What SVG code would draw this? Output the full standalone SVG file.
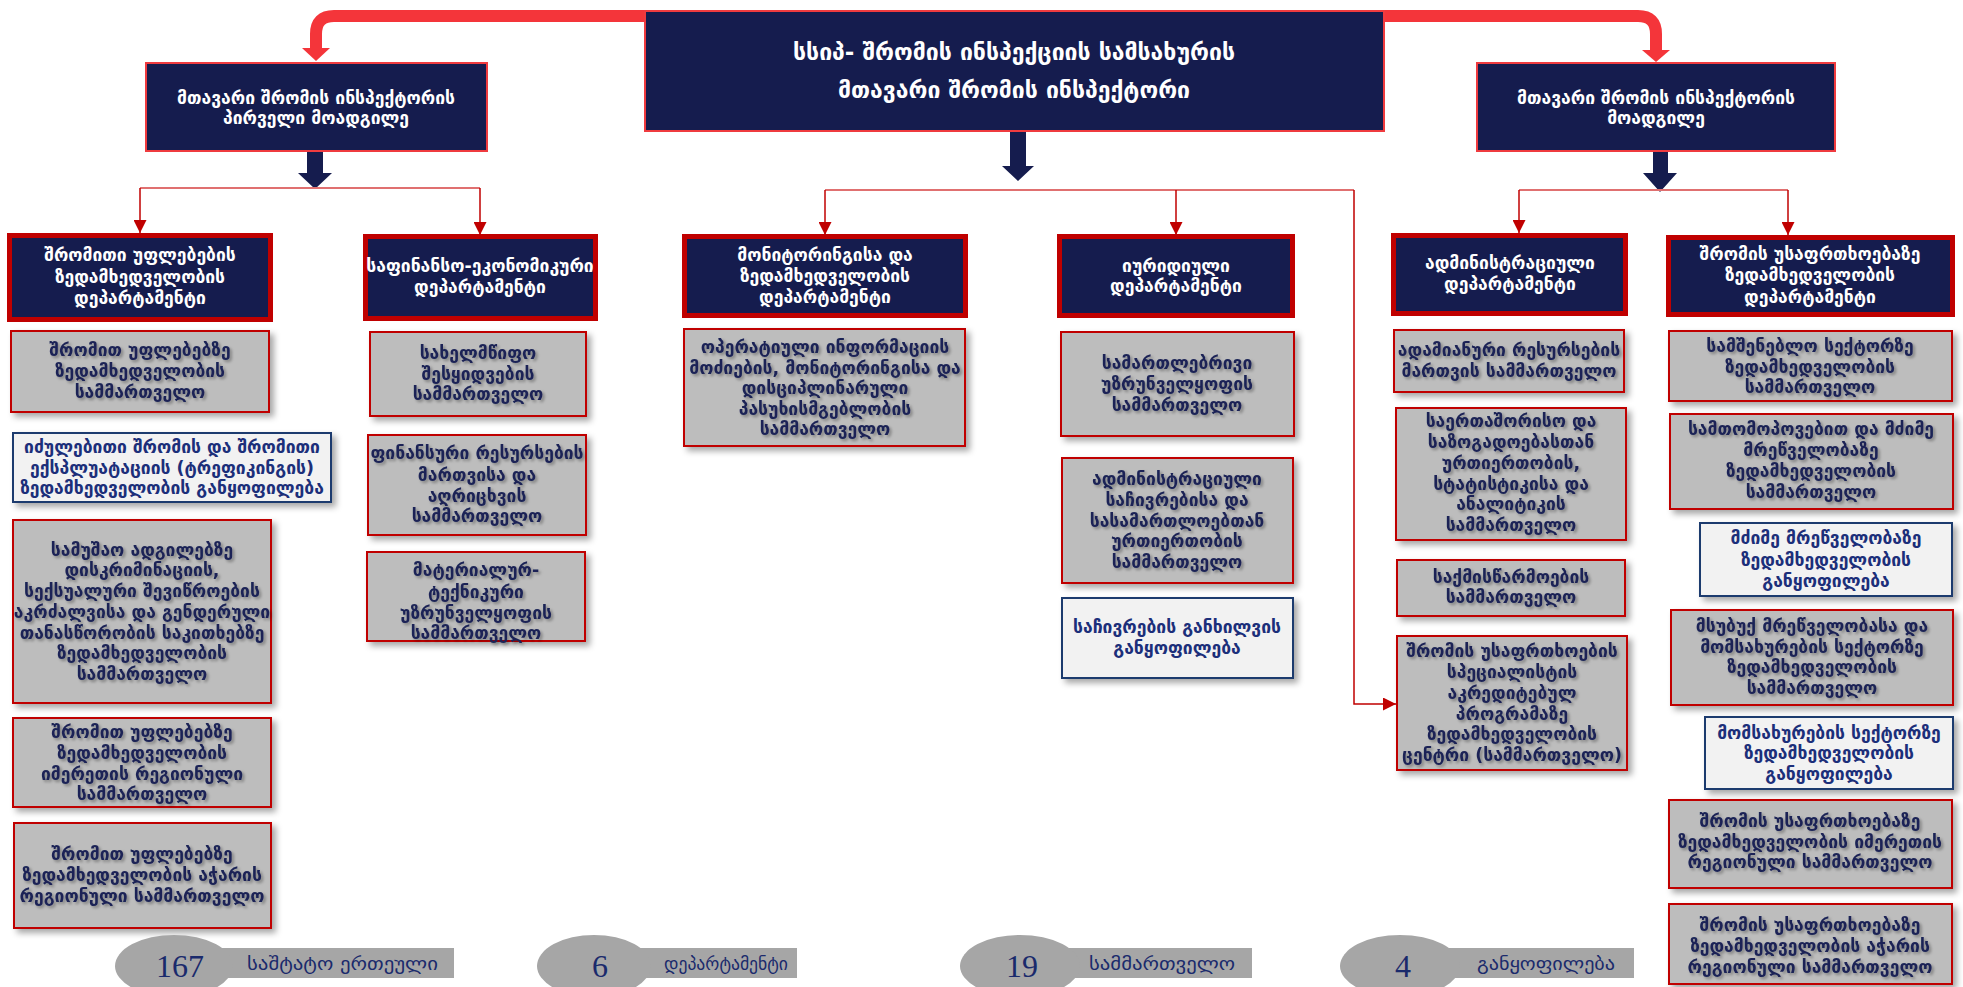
<svg xmlns="http://www.w3.org/2000/svg" width="1963" height="987" viewBox="0 0 1963 987">
<defs>
<filter id="bs" x="-10%" y="-10%" width="125%" height="130%"><feDropShadow dx="4" dy="4" stdDeviation="3" flood-color="#000" flood-opacity="0.35"/></filter>
<filter id="ts" x="-5%" y="-20%" width="115%" height="160%"><feDropShadow dx="2" dy="2" stdDeviation="1.6" flood-color="#000" flood-opacity="0.35"/></filter>
<marker id="ah" markerUnits="userSpaceOnUse" markerWidth="13" markerHeight="13" refX="13" refY="6.5" orient="auto"><path d="M0,0 L13,6.5 L0,13 z" fill="#c00000"/></marker>
</defs>
<style>
.top{fill:#151c4e;stroke:#ef3b3f;stroke-width:2}
.dept{fill:#151c4e;stroke:#c00000;stroke-width:5}
.sub{fill:#bdbdbd;stroke:#c00000;stroke-width:2;filter:url(#bs)}
.div{fill:#f2f2f2;stroke:#1f3a6e;stroke-width:2;filter:url(#bs)}
text{font-family:"DejaVu Sans",sans-serif;text-anchor:middle}
.tw{fill:#fff;font-weight:bold;font-size:17.5px}
.tc{fill:#fff;font-weight:bold;font-size:23px}
.tn{fill:#1b2456;font-weight:bold;font-size:17.5px;filter:url(#ts)}
.tb{fill:#1c2f7a;font-weight:bold;font-size:17.5px}
.st{fill:#a6a6a6}
.num{fill:#1a2a6c;font-family:"Liberation Serif",serif;font-size:32px}
.lab{fill:#1a2a6c;font-size:18px;text-anchor:start}
.red{fill:none;stroke:#f4353a;stroke-width:12}
.nv{fill:#151c4e}
.hl{fill:none;stroke:#e07070;stroke-width:2}
.vl{fill:none;stroke:#c00000;stroke-width:1.5}
</style>

<g id="connectors">
<path class="red" d="M646 16 H334 Q316 16 316 34 V49"/>
<polygon points="302,48 330,48 316,61" fill="#f4353a"/>
<path class="red" d="M1383 16 H1638 Q1656 16 1656 34 V50"/>
<polygon points="1642,50 1670,50 1656,62" fill="#f4353a"/>
<polygon class="nv" points="307,152 323,152 323,173 332,173 315,189 298,173 307,173"/>
<polygon class="nv" points="1010,132 1026,132 1026,166 1034,166 1018,181 1002,166 1010,166"/>
<polygon class="nv" points="1653,152 1668,152 1668,173 1677,173 1660,192 1643,173 1653,173"/>
<path class="hl" d="M140 188 H480"/>
<path class="vl" d="M140 188 V233" marker-end="url(#ah)"/>
<path class="vl" d="M480 188 V235" marker-end="url(#ah)"/>
<path class="hl" d="M825 190 H1354"/>
<path class="vl" d="M825 190 V235" marker-end="url(#ah)"/>
<path class="vl" d="M1176 190 V235" marker-end="url(#ah)"/>
<path class="vl" d="M1354 190 V704 H1396" marker-end="url(#ah)"/>
<path class="hl" d="M1519 190 H1788"/>
<path class="vl" d="M1519 190 V233" marker-end="url(#ah)"/>
<path class="vl" d="M1788 190 V235" marker-end="url(#ah)"/>
</g>

<g id="chief"><rect class="top" x="645" y="11" width="739" height="120"/>
<text class="tc"><tspan x="1014" y="60">სსიპ- შრომის ინსპექციის სამსახურის</tspan><tspan x="1014" y="98">მთავარი შრომის ინსპექტორი</tspan></text></g>
<g id="first-deputy"><rect class="top" x="146" y="63" width="341" height="88"/>
<text class="tw"><tspan x="316" y="104">მთავარი შრომის ინსპექტორის</tspan><tspan x="316" y="124">პირველი მოადგილე</tspan></text></g>
<g id="deputy"><rect class="top" x="1477" y="63" width="358" height="88"/>
<text class="tw"><tspan x="1656" y="104">მთავარი შრომის ინსპექტორის</tspan><tspan x="1656" y="124">მოადგილე</tspan></text></g>

<g id="d1"><rect class="dept" x="9.5" y="235.5" width="261" height="84"/>
<text class="tw"><tspan x="140" y="261">შრომითი უფლებების</tspan><tspan x="140" y="283">ზედამხედველობის</tspan><tspan x="140" y="304">დეპარტამენტი</tspan></text></g>
<g id="s1"><rect class="sub" x="11" y="331" width="258" height="81"/>
<text class="tn"><tspan x="140" y="356">შრომით უფლებებზე</tspan><tspan x="140" y="377">ზედამხედველობის</tspan><tspan x="140" y="398">სამმართველო</tspan></text></g>
<g id="b1"><rect class="div" x="13" y="433" width="318" height="69"/>
<text class="tb"><tspan x="172" y="453">იძულებითი შრომის და შრომითი</tspan><tspan x="172" y="474">ექსპლუატაციის (ტრეფიკინგის)</tspan><tspan x="172" y="494">ზედამხედველობის განყოფილება</tspan></text></g>
<g id="s2"><rect class="sub" x="13" y="520" width="258" height="183"/>
<text class="tn"><tspan x="142" y="556">სამუშაო ადგილებზე</tspan><tspan x="142" y="576">დისკრიმინაციის,</tspan><tspan x="142" y="597">სექსუალური შევიწროების</tspan><tspan x="142" y="618">აკრძალვისა და გენდერული</tspan><tspan x="142" y="639">თანასწორობის საკითხებზე</tspan><tspan x="142" y="659">ზედამხედველობის</tspan><tspan x="142" y="680">სამმართველო</tspan></text></g>
<g id="s3"><rect class="sub" x="13" y="718" width="258" height="89"/>
<text class="tn"><tspan x="142" y="738">შრომით უფლებებზე</tspan><tspan x="142" y="759">ზედამხედველობის</tspan><tspan x="142" y="780">იმერეთის რეგიონული</tspan><tspan x="142" y="800">სამმართველო</tspan></text></g>
<g id="s4"><rect class="sub" x="14" y="823" width="257" height="105"/>
<text class="tn"><tspan x="142" y="860">შრომით უფლებებზე</tspan><tspan x="142" y="881">ზედამხედველობის აჭარის</tspan><tspan x="142" y="902">რეგიონული სამმართველო</tspan></text></g>

<g id="d2"><rect class="dept" x="365.5" y="236.5" width="230" height="82"/>
<text class="tw"><tspan x="480" y="272">საფინანსო-ეკონომიკური</tspan><tspan x="480" y="293">დეპარტამენტი</tspan></text></g>
<g id="s5"><rect class="sub" x="370" y="332" width="216" height="84"/>
<text class="tn"><tspan x="478" y="359">სახელმწიფო</tspan><tspan x="478" y="380">შესყიდვების</tspan><tspan x="478" y="400">სამმართველო</tspan></text></g>
<g id="s6"><rect class="sub" x="368" y="435" width="218" height="100"/>
<text class="tn"><tspan x="477" y="459">ფინანსური რესურსების</tspan><tspan x="477" y="481">მართვისა და</tspan><tspan x="477" y="502">აღრიცხვის</tspan><tspan x="477" y="522">სამმართველო</tspan></text></g>
<g id="s7"><rect class="sub" x="367" y="552" width="218" height="89"/>
<text class="tn"><tspan x="476" y="576">მატერიალურ-</tspan><tspan x="476" y="598">ტექნიკური</tspan><tspan x="476" y="619">უზრუნველყოფის</tspan><tspan x="476" y="639">სამმართველო</tspan></text></g>

<g id="d3"><rect class="dept" x="684.5" y="236.5" width="281" height="79"/>
<text class="tw"><tspan x="825" y="261">მონიტორინგისა და</tspan><tspan x="825" y="282">ზედამხედველობის</tspan><tspan x="825" y="303">დეპარტამენტი</tspan></text></g>
<g id="s8"><rect class="sub" x="684" y="329" width="281" height="117"/>
<text class="tn"><tspan x="825" y="353">ოპერატიული ინფორმაციის</tspan><tspan x="825" y="374">მოძიების, მონიტორინგისა და</tspan><tspan x="825" y="394">დისციპლინარული</tspan><tspan x="825" y="415">პასუხისმგებლობის</tspan><tspan x="825" y="435">სამმართველო</tspan></text></g>

<g id="d4"><rect class="dept" x="1059.5" y="236.5" width="233" height="79"/>
<text class="tw"><tspan x="1176" y="272">იურიდიული</tspan><tspan x="1176" y="292">დეპარტამენტი</tspan></text></g>
<g id="s9"><rect class="sub" x="1061" y="332" width="233" height="104"/>
<text class="tn"><tspan x="1177" y="369">სამართლებრივი</tspan><tspan x="1177" y="390">უზრუნველყოფის</tspan><tspan x="1177" y="411">სამმართველო</tspan></text></g>
<g id="s10"><rect class="sub" x="1062" y="458" width="231" height="125"/>
<text class="tn"><tspan x="1177" y="485">ადმინისტრაციული</tspan><tspan x="1177" y="506">საჩივრებისა და</tspan><tspan x="1177" y="527">სასამართლოებთან</tspan><tspan x="1177" y="547">ურთიერთობის</tspan><tspan x="1177" y="568">სამმართველო</tspan></text></g>
<g id="b2"><rect class="div" x="1062" y="598" width="231" height="80"/>
<text class="tb"><tspan x="1177" y="633">საჩივრების განხილვის</tspan><tspan x="1177" y="654">განყოფილება</tspan></text></g>

<g id="d5"><rect class="dept" x="1393.5" y="235.5" width="232" height="78"/>
<text class="tw"><tspan x="1510" y="269">ადმინისტრაციული</tspan><tspan x="1510" y="290">დეპარტამენტი</tspan></text></g>
<g id="s11"><rect class="sub" x="1394" y="330" width="230" height="62"/>
<text class="tn"><tspan x="1509" y="356">ადამიანური რესურსების</tspan><tspan x="1509" y="377">მართვის  სამმართველო</tspan></text></g>
<g id="s12"><rect class="sub" x="1396" y="408" width="230" height="132"/>
<text class="tn"><tspan x="1511" y="427">საერთაშორისო და</tspan><tspan x="1511" y="448">საზოგადოებასთან</tspan><tspan x="1511" y="469">ურთიერთობის,</tspan><tspan x="1511" y="490">სტატისტიკისა და</tspan><tspan x="1511" y="510">ანალიტიკის</tspan><tspan x="1511" y="531">სამმართველო</tspan></text></g>
<g id="s13"><rect class="sub" x="1397" y="560" width="228" height="56"/>
<text class="tn"><tspan x="1511" y="583">საქმისწარმოების</tspan><tspan x="1511" y="603">სამმართველო</tspan></text></g>
<g id="s14"><rect class="sub" x="1397" y="636" width="230" height="134"/>
<text class="tn"><tspan x="1512" y="657">შრომის უსაფრთხოების</tspan><tspan x="1512" y="678">სპეციალისტის</tspan><tspan x="1512" y="699">აკრედიტებულ</tspan><tspan x="1512" y="720">პროგრამაზე</tspan><tspan x="1512" y="740">ზედამხედველობის</tspan><tspan x="1512" y="761">ცენტრი (სამმართველო)</tspan></text></g>

<g id="d6"><rect class="dept" x="1668.5" y="237.5" width="284" height="77"/>
<text class="tw"><tspan x="1810" y="260">შრომის უსაფრთხოებაზე</tspan><tspan x="1810" y="281">ზედამხედველობის</tspan><tspan x="1810" y="303">დეპარტამენტი</tspan></text></g>
<g id="s15"><rect class="sub" x="1669" y="331" width="283" height="70"/>
<text class="tn"><tspan x="1810" y="352">სამშენებლო სექტორზე</tspan><tspan x="1810" y="373">ზედამხედველობის</tspan><tspan x="1810" y="393">სამმართველო</tspan></text></g>
<g id="s16"><rect class="sub" x="1670" y="414" width="283" height="95"/>
<text class="tn"><tspan x="1811" y="435">სამთომოპოვებით და მძიმე</tspan><tspan x="1811" y="456">მრეწველობაზე</tspan><tspan x="1811" y="477">ზედამხედველობის</tspan><tspan x="1811" y="498">სამმართველო</tspan></text></g>
<g id="b3"><rect class="div" x="1700" y="523" width="252" height="73"/>
<text class="tb"><tspan x="1826" y="544">მძიმე მრეწველობაზე</tspan><tspan x="1826" y="566">ზედამხედველობის</tspan><tspan x="1826" y="587">განყოფილება</tspan></text></g>
<g id="s17"><rect class="sub" x="1671" y="610" width="282" height="95"/>
<text class="tn"><tspan x="1812" y="632">მსუბუქ  მრეწველობასა და</tspan><tspan x="1812" y="653">მომსახურების სექტორზე</tspan><tspan x="1812" y="673">ზედამხედველობის</tspan><tspan x="1812" y="694">სამმართველო</tspan></text></g>
<g id="b4"><rect class="div" x="1705" y="717" width="248" height="72"/>
<text class="tb"><tspan x="1829" y="739">მომსახურების სექტორზე</tspan><tspan x="1829" y="759">ზედამხედველობის</tspan><tspan x="1829" y="780">განყოფილება</tspan></text></g>
<g id="s18"><rect class="sub" x="1669" y="800" width="283" height="88"/>
<text class="tn"><tspan x="1810" y="827">შრომის უსაფრთხოებაზე</tspan><tspan x="1810" y="848">ზედამხედველობის იმერეთის</tspan><tspan x="1810" y="868">რეგიონული სამმართველო</tspan></text></g>
<g id="s19"><rect class="sub" x="1669" y="904" width="283" height="80"/>
<text class="tn"><tspan x="1810" y="931">შრომის უსაფრთხოებაზე</tspan><tspan x="1810" y="952">ზედამხედველობის აჭარის</tspan><tspan x="1810" y="973">რეგიონული სამმართველო</tspan></text></g>

<g id="stat1"><rect class="st" x="174" y="948" width="280" height="30"/><ellipse class="st" cx="174" cy="966" rx="59" ry="31"/>
<text class="num" x="180" y="977">167</text><text class="lab" x="247" y="970" textLength="191" lengthAdjust="spacingAndGlyphs">საშტატო ერთეული</text></g>
<g id="stat2"><rect class="st" x="594" y="948" width="203" height="30"/><ellipse class="st" cx="594" cy="966" rx="57" ry="31"/>
<text class="num" x="600" y="977">6</text><text class="lab" x="664" y="970" textLength="124" lengthAdjust="spacingAndGlyphs">დეპარტამენტი</text></g>
<g id="stat3"><rect class="st" x="1020" y="948" width="232" height="30"/><ellipse class="st" cx="1020" cy="966" rx="60" ry="31"/>
<text class="num" x="1022" y="977">19</text><text class="lab" x="1089" y="970" textLength="146" lengthAdjust="spacingAndGlyphs">სამმართველო</text></g>
<g id="stat4"><rect class="st" x="1400" y="948" width="234" height="30"/><ellipse class="st" cx="1400" cy="966" rx="60" ry="31"/>
<text class="num" x="1403" y="977">4</text><text class="lab" x="1477" y="970" textLength="138" lengthAdjust="spacingAndGlyphs">განყოფილება</text></g>
</svg>
